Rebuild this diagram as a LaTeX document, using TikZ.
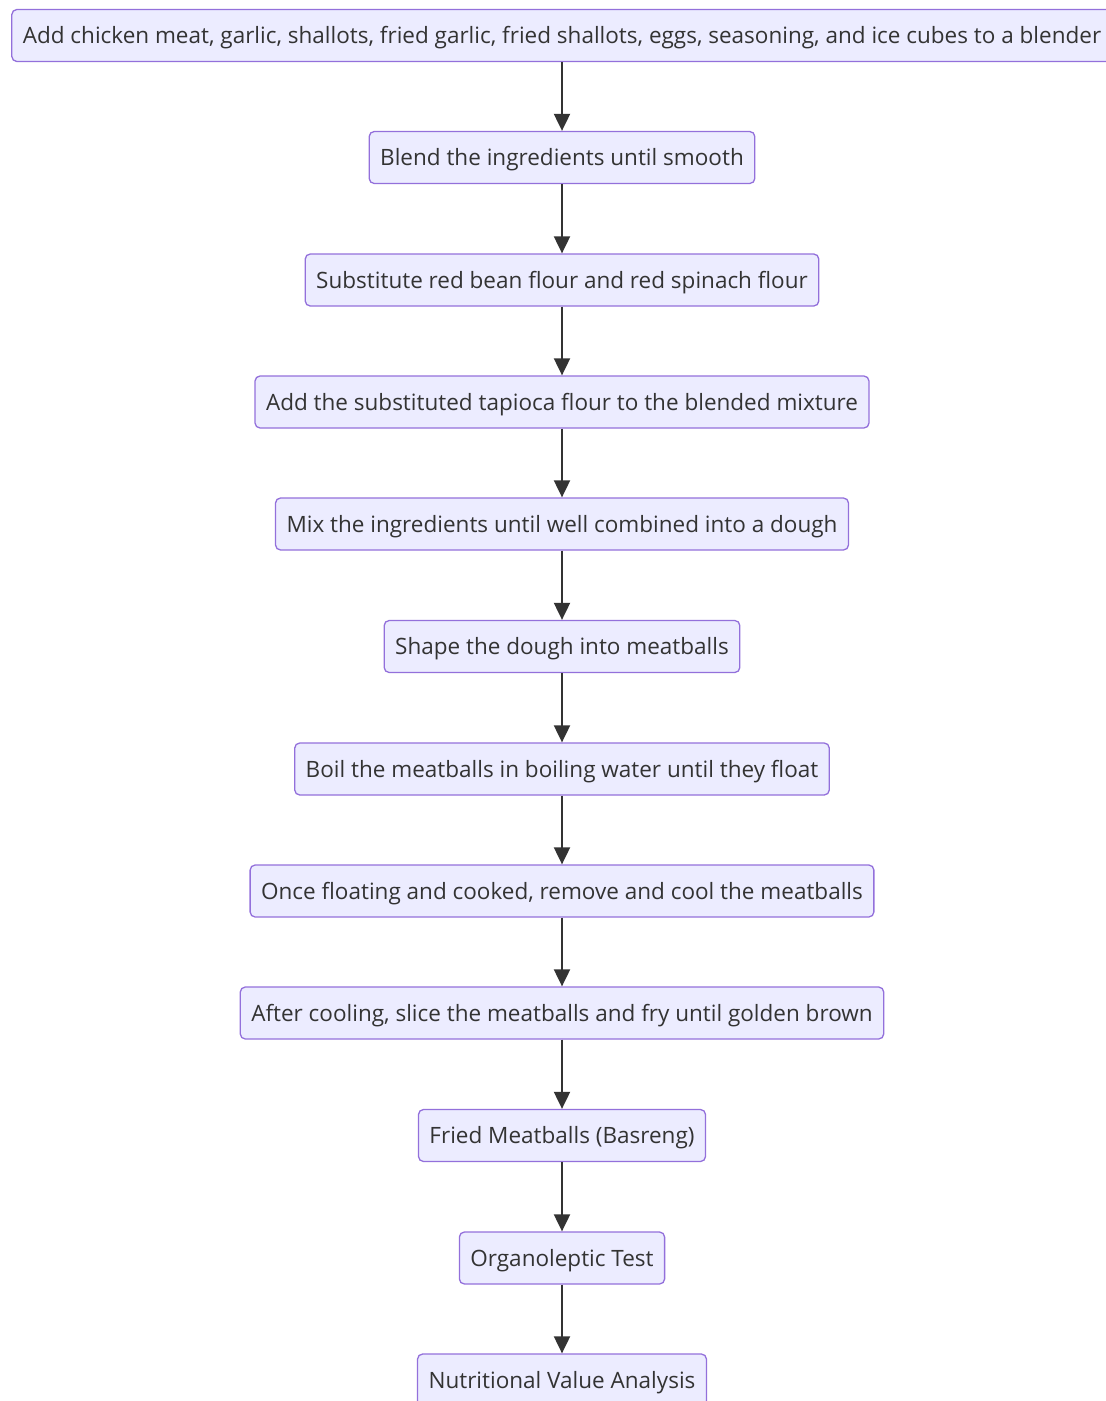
\documentclass[tikz,border=0pt]{standalone}
\usepackage{fontspec}
\setmainfont{Open Sans}
\usetikzlibrary{arrows.meta}
\definecolor{boxfill}{HTML}{ECECFF}
\definecolor{boxline}{HTML}{9370DB}
\definecolor{txt}{HTML}{333333}
\begin{document}
\begin{tikzpicture}[x=1pt,y=-1pt,
  stepbox/.style={draw=boxline, fill=boxfill, line width=1.3pt, rounded corners=5pt,
    text=txt, font=\fontsize{22.5}{27}\selectfont, inner xsep=11pt, inner ysep=0pt,
    text height=16pt, text depth=0pt, minimum height=52pt, anchor=center},
  flow/.style={draw=txt, line width=2pt, -{Triangle[length=17pt,width=16pt]}}]
\useasboundingbox (0,0) rectangle (1106,1401);
\node[stepbox] (n1) at (562,35.5) {Add chicken meat, garlic, shallots, fried garlic, fried shallots, eggs, seasoning, and ice cubes to a blender};
\node[stepbox] (n2) at (562,157.5) {Blend the ingredients until smooth};
\node[stepbox] (n3) at (562,280) {Substitute red bean flour and red spinach flour};
\node[stepbox] (n4) at (562,402) {Add the substituted tapioca flour to the blended mixture};
\node[stepbox] (n5) at (562,524) {Mix the ingredients until well combined into a dough};
\node[stepbox] (n6) at (562,646.5) {Shape the dough into meatballs};
\node[stepbox] (n7) at (562,769) {Boil the meatballs in boiling water until they float};
\node[stepbox] (n8) at (562,891) {Once floating and cooked, remove and cool the meatballs};
\node[stepbox] (n9) at (562,1013) {After cooling, slice the meatballs and fry until golden brown};
\node[stepbox] (n10) at (562,1135.5) {Fried Meatballs (Basreng)};
\node[stepbox] (n11) at (562,1258) {Organoleptic Test};
\node[stepbox] (n12) at (562,1380) {Nutritional Value Analysis};
\foreach \a/\b in {n1/n2,n2/n3,n3/n4,n4/n5,n5/n6,n6/n7,n7/n8,n8/n9,n9/n10,n10/n11,n11/n12}
  \draw[flow] (\a) -- (\b);
\end{tikzpicture}
\end{document}
